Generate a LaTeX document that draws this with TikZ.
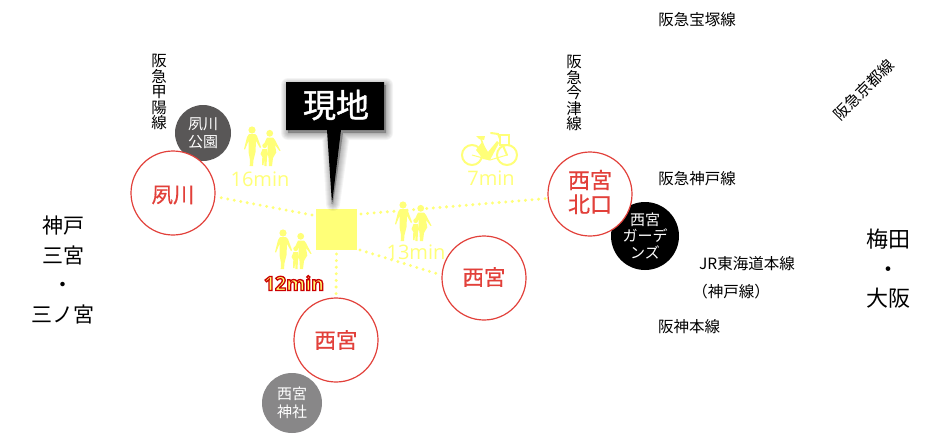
\documentclass[tikz,border=0pt]{standalone}
\usepackage{fontspec}
\setmainfont{Noto Sans CJK JP}
\newfontfamily\minfont{Open Sans}
\newfontfamily\heavyfont[RawFeature={embolden=0.5}]{Noto Sans CJK JP}
\newfontfamily\signfont[RawFeature={embolden=1.2}]{Noto Sans CJK JP}
\definecolor{ylw}{HTML}{FFFF78}
\definecolor{rd}{HTML}{E2403A}
\definecolor{koengray}{HTML}{595757}
\definecolor{jinjagray}{HTML}{888788}
\tikzset{
  station/.style={circle,draw=rd,line width=1.2pt,fill=white,minimum size=84pt,inner sep=0pt},
  stlabel/.style={text=rd,inner sep=0pt,align=center,font=\heavyfont\fontsize{21.5}{29}\selectfont},
  spot/.style={circle,inner sep=0pt,text=white,align=center,font=\fontsize{15}{17.5}\selectfont},
  railtext/.style={text=black,inner sep=0pt,align=center,font=\fontsize{15.5}{15.5}\selectfont},
  citytext/.style={text=black,inner sep=0pt,align=center,font=\fontsize{21}{29.5}\selectfont},
  walk/.style={draw=ylw,line width=3.3pt,line cap=round,dash pattern=on 0pt off 6.6pt},
  mintext/.style={text=ylw,inner sep=0pt,font=\minfont\fontsize{20}{20}\selectfont},
  family/.pic={
    \fill[ylw] (0,0) circle (3.6);
    \fill[ylw] (-3,4) -- (3,4) -- (5,6) -- (9,17) -- (8,18) -- (4,11) -- (3.5,22) -- (1.5,30) -- (1,36) -- (-2.3,36) -- (-2,30) -- (-3.5,22) -- (-3.5,11) -- (-7,19.5) -- (-8,19) -- (-5,7) -- cycle;
    \fill[ylw] (17.7,3.3) circle (3.4);
    \fill[ylw] (15,7.5) -- (21,7.5) -- (23,10) -- (28.5,20.5) -- (27.5,21) -- (23,15) -- (24.3,22.3) -- (21,28) -- (20,36) -- (17,36) -- (16.5,28) -- (15.7,22.3) -- (15.5,15) -- (12,17) -- (11.5,15) -- cycle;
    \fill[ylw] (12.7,15.7) circle (2.4);
    \fill[ylw] (10.5,19) -- (15,19) -- (16,24) -- (15,27) -- (14.5,36) -- (12.5,36) -- (12.3,29) -- (11.5,35) -- (10,35) -- (10.3,27) -- (8.5,24) -- cycle;
  }
}
\begin{document}
\begin{tikzpicture}[x=1pt,y=-1pt]
\useasboundingbox[fill=white] (0,0) rectangle (950,434);
% spots under the stations
\node[spot,fill=koengray,minimum size=56pt] (koen) at (203,133) {夙川\\公園};
\node[spot,fill=jinjagray,minimum size=60pt] (jinja) at (292,403) {西宮\\神社};
\node[spot,fill=black,minimum size=68pt,font=\fontsize{15}{16.5}\selectfont] (gardens) at (645,236) {西宮\\ガーデ\\ンズ};
% stations
\node[station] (shuku) at (173,193) {};
\node[station] (nishi) at (336,340) {};
\node[station] (nishir) at (484,278) {};
\node[station] (kita) at (590,194) {};
\node[stlabel] (lshuku) at (173,195) {夙川};
\node[stlabel] (lnishi) at (336,340) {西宮};
\node[stlabel] (lnishir) at (484,277) {西宮};
\node[stlabel,font=\heavyfont\fontsize{22}{24}\selectfont] (lkita) at (590,192) {西宮\\北口};
% site
\node[fill=ylw,minimum size=41pt,inner sep=0pt] (site) at (336.5,229.5) {};
\coordinate (sL) at (312,215);
\coordinate (sR) at (361,214);
\coordinate (sD) at (360,250);
\coordinate (sB) at (336.5,254);
\draw[walk] (sL) -- (shuku.-5);
\draw[walk] (sR) -- (kita.186);
\draw[walk] (sD) -- (nishir.176);
\draw[walk] (sB) -- (nishi.north);
% sign shadow
\foreach \w in {2,4,...,14}{
  \path[draw=black,fill=black,line width=\w pt,line join=round,opacity=0.045] (288,85) -- (386,85) -- (386,133) -- (343,133) -- (333,204) -- (329,133) -- (288,133) -- cycle;
}
% sign
\path[fill=black] (286,82) -- (384,82) -- (384,130) -- (341,130) -- (332,204) -- (327,130) -- (286,130) -- cycle;
\node[text=white,inner sep=0pt,font=\signfont\fontsize{33}{33}\selectfont] (sign) at (336,105) {現地};
% walking & cycling
\pic at (252,130) {family};
\pic at (403,205) {family};
\pic at (283,233) {family};
\node[mintext] (m16) at (260,179) {16min};
\node[mintext] (m13) at (416,252) {13min};
\node[mintext] (m7) at (491,178) {7min};
\node[inner sep=0pt,font=\minfont\bfseries\fontsize{19.5}{19.5}\selectfont] (m12) at (294,283) {\special{pdf:code 2 Tr 1.3 w 0.8 0 0 RG 1 1 0.45 rg}12min\special{pdf:code 0 Tr}};
% bicycle
\draw[ylw,line width=2pt] (472,155) circle (10);
\draw[ylw,line width=2pt] (507,155) circle (10);
\fill[ylw] (476,150) -- (482,142) -- (488,152) -- (497,141) -- (499,143) -- (490,160) -- (483,159) -- cycle;
\fill[ylw] (476,136) -- (485,136) -- (484,140) -- (479,139) -- cycle;
\draw[ylw,line width=1.5pt] (481,139) -- (489,160);
\draw[ylw,line width=1pt] (472,155) -- (490,160) -- (507,155);
\draw[ylw,line width=2pt,line cap=round] (507,155) -- (498,134) -- (491,133);
\draw[ylw,line width=1.2pt,fill=white] (500,135) rectangle (509,145);
% rail labels
\node[railtext] (t1) at (697,20) {阪急宝塚線};
\node[railtext,rotate=45] (t2) at (864,90) {阪急京都線};
\node[railtext] (t3) at (697,179) {阪急神戸線};
\node[railtext] (t4) at (747,264) {JR東海道本線};
\node[railtext] (t5) at (731,292) {（神戸線）};
\node[railtext] (t6) at (689,327) {阪神本線};
\node[railtext] (t7) at (159,92) {阪\\急\\甲\\陽\\線};
\node[railtext] (t8) at (574,93) {阪\\急\\今\\津\\線};
\node[citytext] (c1) at (63,270) {神戸\\三宮\\・\\三ノ宮};
\node[citytext,font=\fontsize{22}{29.5}\selectfont] (c2) at (888,269) {梅田\\・\\大阪};
\end{tikzpicture}
\end{document}
